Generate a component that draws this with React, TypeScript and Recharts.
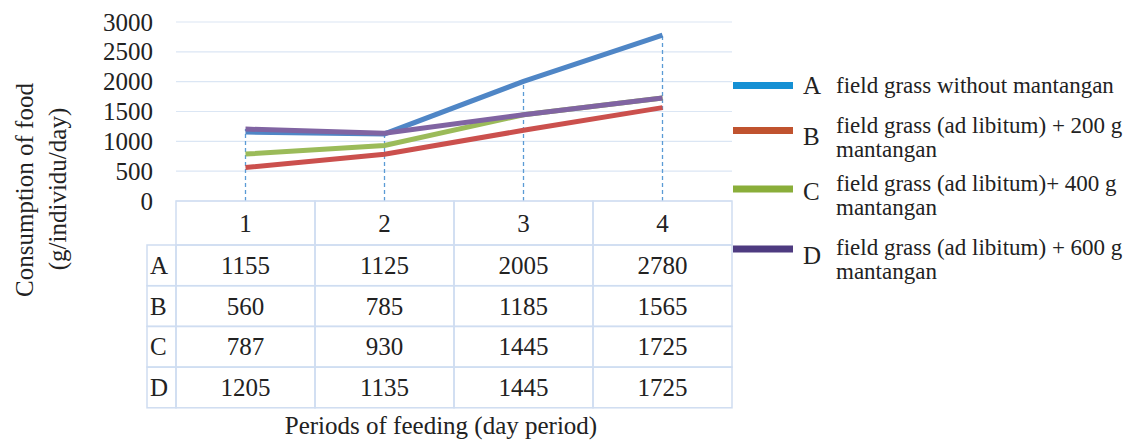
import React from 'react';
import { LineChart, Line, XAxis, YAxis, CartesianGrid, ReferenceLine } from 'recharts';

const categories = ['1', '2', '3', '4'];
const seriesKeys = ['A', 'B', 'C', 'D'];
const seriesA = [1155, 1125, 2005, 2780];
const seriesB = [560, 785, 1185, 1565];
const seriesC = [787, 930, 1445, 1725];
const seriesD = [1205, 1135, 1445, 1725];
const yTicks = [0, 500, 1000, 1500, 2000, 2500, 3000];
const legendLines = [
  ['field grass without mantangan'],
  ['field grass (ad libitum) + 200 g', 'mantangan'],
  ['field grass (ad libitum)+ 400 g', 'mantangan'],
  ['field grass (ad libitum) + 600 g', 'mantangan'],
];
const yTitleLines = ['Consumption of  food', '(g/individu/day)'];
const xTitle = 'Periods of  feeding (day period)';

const lineColors = ['#4f86c6', '#cb504d', '#9bbb59', '#8064a2'];
const legendColors = ['#1590d4', '#c0532f', '#8aae3a', '#4e3b80'];
const FONT = "'Liberation Serif', 'Times New Roman', serif";
const TEXT = '#222222';
const BORDER = '#cfddf1';

const allSeries = [seriesA, seriesB, seriesC, seriesD];
const data = categories.map((c, i) => ({
  period: c,
  A: seriesA[i],
  B: seriesB[i],
  C: seriesC[i],
  D: seriesD[i],
  top: Math.max(seriesA[i], seriesB[i], seriesC[i], seriesD[i]),
}));

const COL_W = 139;
const HEAD_H = 44;
const ROW_H = 40.7;
const LABEL_W = 29;

function TableTick(props: any) {
  const { x, y, payload } = props;
  const i = payload.index ?? props.index ?? 0;
  const left = x - COL_W / 2;
  return (
    <g>
      <rect x={left} y={y} width={COL_W} height={HEAD_H} fill="none" stroke={BORDER} strokeWidth={1.5} />
      <text x={x} y={y + HEAD_H / 2} textAnchor="middle" dominantBaseline="central" fontSize={25} fontFamily={FONT} fill={TEXT}>
        {payload.value}
      </text>
      {allSeries.map((s, r) => (
        <g key={r}>
          <rect x={left} y={y + HEAD_H + r * ROW_H} width={COL_W} height={ROW_H} fill="none" stroke={BORDER} strokeWidth={1.5} />
          <text x={x} y={y + HEAD_H + r * ROW_H + ROW_H / 2} textAnchor="middle" dominantBaseline="central" fontSize={25} fontFamily={FONT} fill={TEXT}>
            {s[i]}
          </text>
          {i === 0 && (
            <g>
              <rect x={left - LABEL_W} y={y + HEAD_H + r * ROW_H} width={LABEL_W} height={ROW_H} fill="none" stroke={BORDER} strokeWidth={1.5} />
              <text x={left - LABEL_W + 3} y={y + HEAD_H + r * ROW_H + ROW_H / 2} textAnchor="start" dominantBaseline="central" fontSize={25} fontFamily={FONT} fill={TEXT}>
                {seriesKeys[r]}
              </text>
            </g>
          )}
        </g>
      ))}
    </g>
  );
}

function YTick(props: any) {
  const { x, y, payload } = props;
  return (
    <text x={x} y={y} textAnchor="end" dominantBaseline="central" fontSize={25} fontFamily={FONT} fill={TEXT}>
      {payload.value}
    </text>
  );
}

const legendSwatchY = [85.5, 130.5, 189, 249];
const legendLetterY = [85, 136, 191.5, 255];
const legendTextY = [85, 125, 183, 247];

export default function App() {
  return (
    <div style={{ position: 'absolute', left: 0, top: 0, width: 1130, height: 441, background: '#ffffff', fontFamily: FONT }}>
      <LineChart width={1130} height={441} data={data} margin={{ top: 22, right: 398, bottom: 0, left: 0 }}>
        <CartesianGrid horizontal={true} vertical={false} stroke="#dbe6f4" strokeWidth={1.2} />
        <XAxis
          dataKey="period"
          height={240}
          axisLine={false}
          tickLine={false}
          tickSize={0}
          tickMargin={0}
          interval={0}
          padding={{ left: 69.5, right: 69.5 }}
          tick={<TableTick />}
        />
        <YAxis
          width={176}
          domain={[0, 3000]}
          ticks={yTicks}
          interval={0}
          axisLine={false}
          tickLine={false}
          tickSize={0}
          tickMargin={23}
          tick={<YTick />}
        />
        {data.map((d) => (
          <ReferenceLine
            key={d.period}
            segment={[{ x: d.period, y: 0 }, { x: d.period, y: d.top }]}
            stroke="#5b9bd5"
            strokeWidth={1.3}
            strokeDasharray="4 3"
          />
        ))}
        {seriesKeys.map((k, i) => (
          <Line
            key={k}
            type="linear"
            dataKey={k}
            stroke={lineColors[i]}
            strokeWidth={5}
            dot={false}
            activeDot={false}
            isAnimationActive={false}
          />
        ))}
      </LineChart>
      <svg width={1130} height={441} style={{ position: 'absolute', left: 0, top: 0, pointerEvents: 'none' }}>
        <g fontFamily={FONT} fill={TEXT} style={{ whiteSpace: 'pre' }}>
          <text transform="translate(24,190) rotate(-90)" textAnchor="middle" dominantBaseline="central" fontSize={25}>
            {yTitleLines[0]}
          </text>
          <text transform="translate(57,189) rotate(-90)" textAnchor="middle" dominantBaseline="central" fontSize={25}>
            {yTitleLines[1]}
          </text>
          <text x={441} y={425} textAnchor="middle" dominantBaseline="central" fontSize={25}>
            {xTitle}
          </text>
          {seriesKeys.map((k, i) => (
            <g key={k}>
              <rect x={733} y={legendSwatchY[i] - 3.5} width={60} height={7} fill={legendColors[i]} />
              <text x={803} y={legendLetterY[i]} dominantBaseline="central" fontSize={25}>
                {k}
              </text>
              {legendLines[i].map((t, j) => (
                <text key={j} x={836} y={legendTextY[i] + j * 24} dominantBaseline="central" fontSize={23}>
                  {t}
                </text>
              ))}
            </g>
          ))}
        </g>
      </svg>
    </div>
  );
}
